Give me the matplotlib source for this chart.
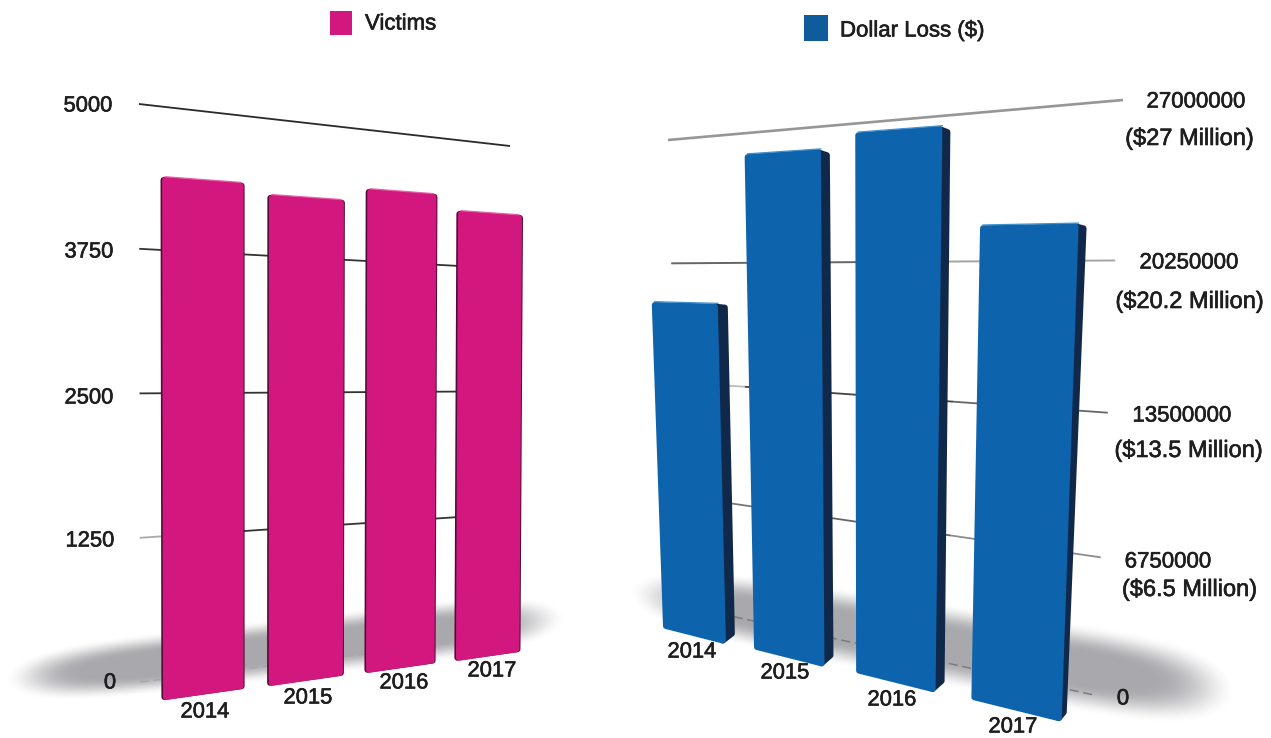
import numpy as np
import matplotlib
matplotlib.use("Agg")
import matplotlib.pyplot as plt
import matplotlib.patheffects as pe
from matplotlib.patches import Polygon, Rectangle

plt.rcParams['font.family'] = ['Liberation Sans', 'DejaVu Sans']

# Data
years = ['2014', '2015', '2016', '2017']
victims = [4365, 4275, 4385, 4240]
dollar_loss = [18250000, 25570000, 26220000, 21930000]

victim_ticks = [0, 1250, 2500, 3750, 5000]
victim_max = 5000
loss_ticks = [0, 6750000, 13500000, 20250000, 27000000]
loss_max = 27000000
loss_notes = {6750000: '($6.5 Million)', 13500000: '($13.5 Million)',
              20250000: '($20.2 Million)', 27000000: '($27 Million)'}

W, H = 1271, 738
TEXT = '#1E1E1E'
PINK, PINK_EDGE, PINK_TOP = '#D2187F', '#4E0B35', '#E65FA8'
BLUE, BLUE_SIDE, BLUE_TOP = '#0E64AC', '#10294A', '#3F8FCB'
CORNER = 3.0


def homography(corners):
    """Projective map from the unit square (u, v) to figure pixels."""
    src = [(0, 0), (1, 0), (0, 1), (1, 1)]
    A, b = [], []
    for (u, v), (x, y) in zip(src, corners):
        A.append([u, v, 1, 0, 0, 0, -u * x, -v * x]); b.append(x)
        A.append([0, 0, 0, u, v, 1, -u * y, -v * y]); b.append(y)
    return np.append(np.linalg.solve(np.array(A, float), np.array(b, float)), 1).reshape(3, 3)


def project(M, u, v):
    x, y, w = M @ np.array([u, v, 1.0])
    return x / w, y / w


def soft_shadow(ax, p0, p1, half_w0, half_w1, strength=0.58):
    """Blurred tapered ellipse lying on the floor of a panel."""
    yy, xx = np.mgrid[0:H, 0:W]
    p0, p1 = np.array(p0, float), np.array(p1, float)
    d = p1 - p0
    t = ((xx - p0[0]) * d[0] + (yy - p0[1]) * d[1]) / (d @ d)
    dist = np.abs((xx - p0[0]) * d[1] - (yy - p0[1]) * d[0]) / np.hypot(*d)
    tc = np.clip(t, 0, 1)
    width = half_w0 + (half_w1 - half_w0) * tc
    r = np.sqrt((dist / width) ** 2 + np.clip((2 * t - 1) ** 6, 0, 4))
    a = np.clip((1.0 - r) / 0.62, 0, 1)
    a = a * a * (3 - 2 * a)
    img = np.zeros((H, W, 4))
    img[..., :3] = (0.42, 0.42, 0.45)
    img[..., 3] = strength * a
    ax.imshow(img, extent=(0, W, H, 0), aspect='auto', zorder=1, interpolation='bilinear')


def rounded_poly(ax, pts, color, zorder):
    """Quadrilateral (tl, tr, br, bl) with softened corners."""
    signs = [(1, 1), (-1, 1), (-1, -1), (1, -1)]
    inset = [(x + sx * CORNER, y + sy * CORNER) for (x, y), (sx, sy) in zip(pts, signs)]
    ax.add_patch(Polygon(inset, closed=True, fc=color, ec=color, lw=2 * CORNER * 0.72,
                         joinstyle='round', zorder=zorder))


def bar_corners(plane, u0, u1, frac):
    return (project(plane, u0, frac), project(plane, u1, frac),
            project(plane, u1, 0), project(plane, u0, 0))


def draw_pink_bar(ax, plane, u0, u1, frac):
    tl, tr, br, bl = bar_corners(plane, u0, u1, frac)
    shift = lambda p, dx: (p[0] + dx, p[1])
    rounded_poly(ax, [shift(tl, -1.6), shift(tr, 1.0), shift(br, 1.0), shift(bl, -1.6)], PINK_EDGE, 4)
    rounded_poly(ax, [tl, tr, br, bl], PINK, 5)
    ax.plot([tl[0] + CORNER, tr[0] - CORNER], [tl[1] - 0.3, tr[1] - 0.3], color=PINK_TOP, lw=0.9, zorder=6)


def draw_blue_bar(ax, plane, u0, u1, frac, side_top, side_bot):
    tl, tr, br, bl = bar_corners(plane, u0, u1, frac)
    outer_top = (tr[0] + side_top[0], tr[1] + side_top[1])
    outer_bot = (br[0] + side_bot[0], br[1] + side_bot[1])
    rounded_poly(ax, [(tr[0] - 6, tr[1]), outer_top, outer_bot, (br[0] - 6, br[1])], BLUE_SIDE, 4)
    rounded_poly(ax, [tl, tr, br, bl], BLUE, 5)
    ax.plot([tl[0] + CORNER, tr[0]], [tl[1] - 0.3, tr[1] - 0.3], color=BLUE_TOP, lw=0.9, zorder=6)


def draw_grid(ax, grid, frac, segments, lw, dashes=None):
    for u0, u1, color in segments:
        (x0, y0), (x1, y1) = project(grid, u0, frac), project(grid, u1, frac)
        line, = ax.plot([x0, x1], [y0, y1], color=color, lw=lw, zorder=2, solid_capstyle='butt')
        if dashes:
            line.set_dashes(dashes)


def label(ax, x, y, s, size, ha='center'):
    t = ax.text(x, y, s, fontsize=size, color=TEXT, ha=ha, va='center', zorder=8)
    t.set_path_effects([pe.withStroke(linewidth=0.45, foreground=TEXT)])
    return t


fig = plt.figure(figsize=(W / 100, H / 100), dpi=100)
ax = fig.add_axes([0, 0, 1, 1])

# Floor shadows
soft_shadow(ax, (4, 680), (566, 616), 31, 31)
soft_shadow(ax, (628, 590), (1236, 694), 34, 48)

# Victims panel
grid_l = homography([(140, 682), (510, 636), (139, 104), (510, 146)])
plane_l = homography([(163, 700), (521, 652), (162, 100), (524, 136)])
grid_style_l = {
    0: ([(0, 1, '#A8A8A8')], 1.1, (6, 3)),
    1250: ([(0, 0.1, '#ABABAB'), (0.1, 1, '#333333')], 1.3, None),
    2500: ([(0, 1, '#333333')], 1.3, None),
    3750: ([(0, 1, '#333333')], 1.3, None),
    5000: ([(0, 1, '#2A2A2A')], 1.3, None),
}
for tick in victim_ticks:
    segments, lw, dashes = grid_style_l[tick]
    draw_grid(ax, grid_l, tick / victim_max, segments, lw, dashes)
for i, val in enumerate(victims):
    u0 = i * 0.265
    draw_pink_bar(ax, plane_l, u0, u0 + 0.2, val / victim_max)

# Dollar loss panel
grid_r = homography([(680, 605), (1094, 695), (668, 140), (1123, 100)])
plane_r = homography([(663, 629), (1061, 721), (646, 132), (1082, 96)])
grid_style_r = {
    0: ([(0, 1, '#7C7C7C')], 1.1, (6, 3)),
    6750000: ([(0, 0.3, '#777777'), (0.3, 0.7, '#666666'), (0.7, 1, '#8C8C8C')], 1.3, None),
    13500000: ([(0, 0.2, '#BBBBBB'), (0.2, 0.7, '#444444'), (0.7, 1, '#666666')], 1.3, None),
    20250000: ([(0, 0.5, '#666666'), (0.5, 1, '#A4A4A4')], 1.4, None),
    27000000: ([(0, 1, '#969696')], 1.9, None),
}
for tick in loss_ticks:
    segments, lw, dashes = grid_style_r[tick]
    draw_grid(ax, grid_r, tick / loss_max, segments, lw, dashes)
side_offsets = [((10, 1), (9, -7)), ((9, 3), (9, -8)), ((8, 3), (9, -8)), ((8, 2), (5, -6))]
for i, val in enumerate(dollar_loss):
    u0 = i * 0.2705
    draw_blue_bar(ax, plane_r, u0, u0 + 0.19, val / loss_max, *side_offsets[i])

# Axis labels
left_label_pos = {5000: (88, 106), 3750: (89, 252), 2500: (89, 398), 1250: (90, 541), 0: (110, 683)}
for tick in victim_ticks:
    label(ax, *left_label_pos[tick], str(tick), 15.8)

right_label_pos = {27000000: ((1196, 102), (1190, 139)), 20250000: ((1189, 263), (1190, 302)),
                   13500000: ((1182, 416), (1189, 451)), 6750000: ((1168, 562), (1190, 590)),
                   0: ((1123, 699), None)}
for tick in loss_ticks:
    main, note = right_label_pos[tick]
    label(ax, *main, str(tick), 16)
    if note:
        label(ax, *note, loss_notes[tick], 17)

# Year labels under the bars
for year, pos in zip(years, [(205, 712), (308, 698), (404, 683), (492, 671)]):
    label(ax, *pos, year, 15.8)
for year, pos in zip(years, [(692, 652), (785, 673), (892, 700), (1013, 727)]):
    label(ax, *pos, year, 15.8)

# Legends
ax.add_patch(Rectangle((330, 11), 22, 24, fc=PINK, ec='none', zorder=6))
label(ax, 365, 24, 'Victims', 16, ha='left')
ax.add_patch(Rectangle((804, 15), 24, 26, fc='#0F5C9C', ec='none', zorder=6))
label(ax, 840, 31, 'Dollar Loss ($)', 16, ha='left')

ax.set_xlim(0, W)
ax.set_ylim(H, 0)
ax.axis('off')
fig.savefig('out.png', dpi=100, facecolor='white')
